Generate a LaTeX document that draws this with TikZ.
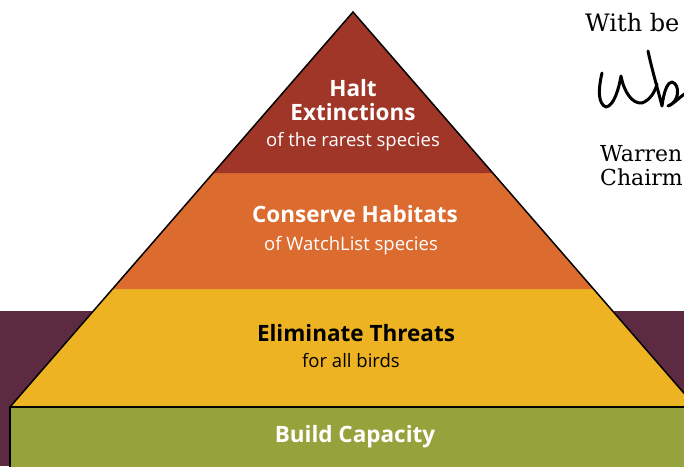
\documentclass[tikz,border=0pt]{standalone}
\usepackage{fontspec}
\newfontfamily\pyrfont{Open Sans}
\newfontfamily\letterfont{DejaVu Serif}
\usetikzlibrary{positioning,calc}
\definecolor{tierred}{RGB}{160, 54, 40}
\definecolor{tierorange}{RGB}{220, 107, 48}
\definecolor{tieryellow}{RGB}{237, 179, 34}
\definecolor{tiergreen}{RGB}{150, 163, 61}
\definecolor{plum}{RGB}{92, 43, 65}
\tikzstyle{tiertitle} = [inner sep=0pt, text=white, font=\pyrfont\bfseries\fontsize{22.5}{24}\selectfont]
\tikzstyle{tiersub} = [inner sep=0pt, text=white, font=\pyrfont\fontsize{18.5}{20}\selectfont]
\tikzstyle{letter} = [inner sep=0pt, anchor=base west, font=\letterfont\fontsize{24}{28}\selectfont]
\tikzstyle{edgeline} = [draw=black, line width=1.5pt]

\begin{document}
\begin{tikzpicture}[x=1pt, y=-1pt]
\useasboundingbox (0,0) rectangle (684,466);
\clip (0,0) rectangle (684,466);

% background band =============================
\fill[plum] (0,311) rectangle (684,466);

% pyramid =============================
\coordinate (apex) at (353,12);
\coordinate (bl) at (10,407);
\coordinate (br) at (696,407);
\coordinate (l1) at ($(apex)!0.4076!(bl)$);
\coordinate (r1) at ($(apex)!0.4076!(br)$);
\coordinate (l2) at ($(apex)!0.7013!(bl)$);
\coordinate (r2) at ($(apex)!0.7013!(br)$);

\fill[tieryellow] (l2) -- (r2) -- (br) -- (bl) -- cycle;
\fill[tierorange] (l1) -- (r1) -- (r2) -- (l2) -- cycle;
\fill[tierred] (apex) -- (r1) -- (l1) -- cycle;
\draw[edgeline, line join=miter] (bl) -- (apex) -- (br);

% base
\fill[tiergreen] (bl) rectangle (710,480);
\draw[edgeline] (710,407) -- (bl) -- (10,480);

% labels
\node[tiertitle] (halt) at (353,88) {Halt};
\node[tiertitle] (extinctions) at (353,112) {Extinctions};
\node[tiersub] (rarest) at (353,142) {of the rarest species};
\node[tiertitle] (conserve) at (355,214) {Conserve Habitats};
\node[tiersub] (watchlist) at (351,246) {of WatchList species};
\node[tiertitle, text=black] (eliminate) at (356,333) {Eliminate Threats};
\node[tiersub, text=black] (allbirds) at (351,361) {for all birds};
\node[tiertitle] (capacity) at (355,437) {Build Capacity};

% letter =============================
\node[letter] (wishes) at (585,31) {With be};
\draw[line width=3pt, line cap=round, line join=round]
  (602,73) .. controls (598,90) and (598,104) .. (606,107)
  .. controls (614,106) and (619,88) .. (621,76)
  .. controls (624,92) and (632,104) .. (642,103)
  .. controls (650,100) and (655,92) .. (657,84);
\draw[line width=3pt, line cap=round, line join=round]
  (648,51) .. controls (652,70) and (658,90) .. (662,106)
  .. controls (664,90) and (668,82) .. (672,82)
  .. controls (680,84) and (680,102) .. (668,106)
  .. controls (674,104) and (680,96) .. (688,92);
\node[letter, font=\letterfont\fontsize{22}{24}\selectfont] (name) at (600,161) {Warren};
\node[letter, font=\letterfont\fontsize{22}{24}\selectfont] (role) at (600,185) {Chairm};

\end{tikzpicture}
\end{document}
